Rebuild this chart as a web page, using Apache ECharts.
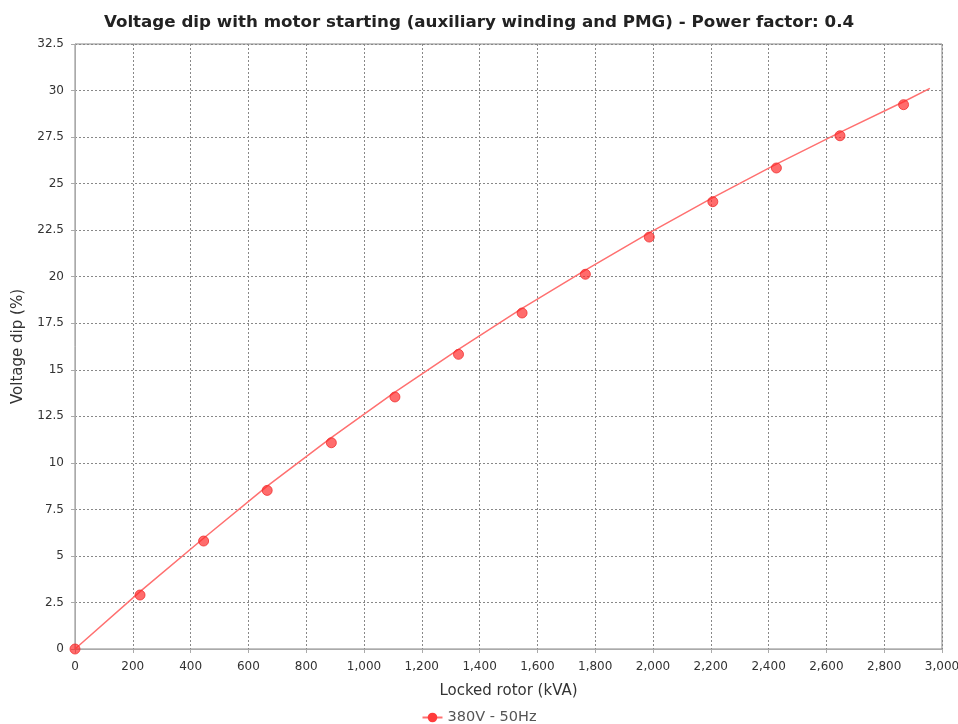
<!DOCTYPE html>
<html>
<head>
<meta charset="utf-8">
<script src="https://cdn.jsdelivr.net/npm/echarts@6/dist/echarts.min.js"></script>
<style>
html,body{margin:0;padding:0;background:#fff;}
#chart{width:958px;height:724px;}
</style>
</head>
<body>
<div id="chart"></div>
<script>
// Data
const seriesName = '380V - 50Hz';
const pointX = [0, 225, 445, 665, 887, 1107, 1327, 1547, 1766, 1987, 2207, 2427, 2647, 2867];
const pointY = [0, 2.90, 5.80, 8.52, 11.08, 13.54, 15.83, 18.05, 20.13, 22.13, 24.03, 25.84, 27.57, 29.24];
const curveX = [0, 225, 445, 665, 887, 1107, 1327, 1547, 1766, 1987, 2207, 2427, 2647, 2867, 2958];
const curveY = [0, 3.08, 5.95, 8.75, 11.35, 13.8, 16.1, 18.3, 20.35, 22.35, 24.25, 26.05, 27.75, 29.4, 30.12];

const font = 'DejaVu Sans, sans-serif';
const chart = echarts.init(document.getElementById('chart'), null, {renderer: 'canvas'});
chart.setOption({
  animation: false,
  backgroundColor: '#ffffff',
  title: {
    text: 'Voltage dip with motor starting (auxiliary winding and PMG) - Power factor: 0.4',
    left: 'center', top: 9,
    textStyle: {fontFamily: font, fontSize: 16.7, fontWeight: 'bold', color: '#222'}
  },
  legend: {
    data: [seriesName],
    bottom: -6, left: 'center',
    itemWidth: 20, itemHeight: 12, itemGap: 5,
    textStyle: {fontFamily: font, fontSize: 14.5, color: '#555'}
  },
  grid: {left: 75, right: 16, top: 44, bottom: 75, outerBoundsMode: 'none', containLabel: false,
    show: true, borderColor: '#888', borderWidth: 1, backgroundColor: '#fff'},
  xAxis: {
    type: 'value', min: 0, max: 3000, interval: 200,
    offset: 4,
    name: 'Locked rotor (kVA)', nameLocation: 'middle', nameGap: 31,
    nameTextStyle: {fontFamily: font, fontSize: 15, color: '#333'},
    axisLine: {show: true, lineStyle: {color: '#aaa'}},
    axisTick: {show: true, length: 4, lineStyle: {color: '#aaa'}},
    axisLabel: {fontFamily: font, fontSize: 12, color: '#333', margin: 8,
      formatter: v => v.toLocaleString('en-US')},
    splitLine: {show: true, lineStyle: {color: '#888', type: [2, 2], width: 1}}
  },
  yAxis: {
    type: 'value', min: 0, max: 32.5, interval: 2.5,
    offset: 5,
    name: 'Voltage dip (%)', nameLocation: 'middle', nameGap: 44,
    nameTextStyle: {fontFamily: font, fontSize: 15, color: '#333'},
    axisLine: {show: true, lineStyle: {color: '#aaa'}},
    axisTick: {show: true, length: 4, lineStyle: {color: '#aaa'}},
    axisLabel: {fontFamily: font, fontSize: 12, color: '#333', margin: 6},
    splitLine: {show: true, lineStyle: {color: '#888', type: [2, 2], width: 1}}
  },
  series: [
    {
      name: seriesName, type: 'line',
      data: curveX.map((x, i) => [x, curveY[i]]),
      showSymbol: false, symbol: 'circle',
      lineStyle: {color: '#ff7070', width: 1.5},
      itemStyle: {color: '#ff3b3b'},
      z: 2
    },
    {
      name: seriesName, type: 'scatter',
      data: pointX.map((x, i) => [x, pointY[i]]),
      symbol: 'circle', symbolSize: 10,
      itemStyle: {color: 'rgba(255,40,40,0.85)', borderColor: '#f03030', borderWidth: 1},
      z: 3
    }
  ]
});
</script>
</body>
</html>
